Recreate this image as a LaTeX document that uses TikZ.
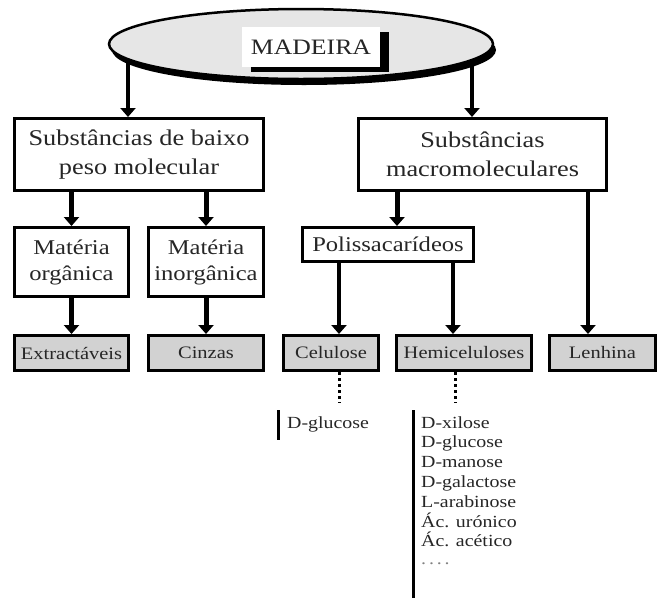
\documentclass[tikz,border=0pt]{standalone}
\usepackage{fontspec}
\setmainfont{Liberation Serif}[FakeStretch=1.17]
\usetikzlibrary{arrows.meta,shapes.geometric,shadows}
\definecolor{ink}{RGB}{38,38,38}
\definecolor{ellgray}{RGB}{230,230,230}
\definecolor{leafgray}{RGB}{210,210,210}
\begin{document}
\begin{tikzpicture}[x=1pt,y=-1pt,
  box/.style={draw=black, line width=3pt, fill=white, inner sep=0pt,
    align=center, text=ink},
  bigbox/.style={box, font=\fontsize{22.5}{29}\selectfont},
  midbox/.style={box, font=\fontsize{21}{26}\selectfont},
  leaf/.style={box, fill=leafgray, minimum height=35pt,
    font=\fontsize{17.5}{21}\selectfont},
  item/.style={anchor=base west, inner sep=0pt, text=ink,
    font=\fontsize{17}{20}\selectfont},
  arr/.style={line width=3.5pt, -{Triangle[width=15pt,length=9pt]}},
  arrthick/.style={arr, line width=5pt},
  dotline/.style={line width=3pt, dash pattern=on 3pt off 3pt},
  bar/.style={line width=3pt},
]
\useasboundingbox (0,0) rectangle (658,598);

% first level
\node[bigbox, minimum width=249pt, minimum height=72pt] (low) at (139,154.5)
  {Substâncias de baixo\\peso molecular};
\node[bigbox, minimum width=248pt, minimum height=72pt] (macro) at (482.5,154.5)
  {Substâncias\\macromoleculares};

% second level
\node[midbox, minimum width=114pt, minimum height=69pt] (org) at (71.5,262)
  {Matéria\\orgânica};
\node[midbox, minimum width=115pt, minimum height=69pt] (inorg) at (206,262)
  {Matéria\\inorgânica};
\node[midbox, minimum width=171pt, minimum height=34pt] (poly) at (388,244.5)
  {Polissacarídeos};

% grey leaves
\node[leaf, minimum width=114pt] (extr) at (71.5,353) {Extractáveis};
\node[leaf, minimum width=115pt] (ash)  at (206,353) {Cinzas};
\node[leaf, minimum width=95pt]  (cell) at (331,353) {Celulose};
\node[leaf, minimum width=135pt] (hemi) at (464,353) {Hemiceluloses};
\node[leaf, minimum width=106pt] (lign) at (602.5,353) {Lenhina};

% connectors leaving the root (drawn under the ellipse)
\coordinate (rootL) at (128,44);
\coordinate (rootR) at (472,44);
\draw[arr] (rootL) -- (rootL |- low.north);
\draw[arr] (rootR) -- (rootR |- macro.north);

% root ellipse with its title plate
\node[ellipse, draw=black, line width=2.5pt, fill=ellgray,
  minimum width=384pt, minimum height=70pt,
  drop shadow={shadow xshift=3pt, shadow yshift=-6pt, fill=black, opacity=1}]
  (wood) at (301,44) {};
\node[fill=white, minimum width=138pt, minimum height=40pt, inner sep=0pt,
  text=ink, font=\fontsize{22}{26}\selectfont,
  drop shadow={shadow xshift=9pt, shadow yshift=-5pt, fill=black, opacity=1}]
  (title) at (311,47) {MADEIRA};

% tree connectors
\draw[arrthick] (org |- low.south) -- (org.north);
\draw[arrthick] (inorg |- low.south) -- (inorg.north);
\draw[arrthick] (org.south) -- (extr.north);
\draw[arrthick] (inorg.south) -- (ash.north);
\draw[arrthick] ([xshift=9pt]poly.north |- macro.south) -- ([xshift=9pt]poly.north);
\draw[arr] ([xshift=8pt]cell.north |- poly.south) -- ([xshift=8pt]cell.north);
\draw[arr] ([xshift=-11pt]hemi.north |- poly.south) -- ([xshift=-11pt]hemi.north);
\draw[arr] ([xshift=-14.5pt]lign.north |- macro.south) -- ([xshift=-14.5pt]lign.north);

% monomer lists
\coordinate (cellEnd) at (339,403);
\coordinate (hemiEnd) at (455,403);
\draw[dotline] (cellEnd |- cell.south) -- (cellEnd);
\draw[dotline] (hemiEnd |- hemi.south) -- (hemiEnd);

\draw[bar] (278,410) -- (278,440);
\node[item] (glc) at (287,428) {D-glucose};

\draw[bar] (413,410) -- (413,598);
\foreach \t [count=\i from 0] in {D-xilose,D-glucose,D-manose,D-galactose,
    L-arabinose,Ác. urónico,Ác. acético}
  \node[item] (mono\i) at (421,428+19.8*\i) {\t};
\node[item, text=gray] (more) at (421,564) {.\,.\,.\,.};
\end{tikzpicture}
\end{document}
